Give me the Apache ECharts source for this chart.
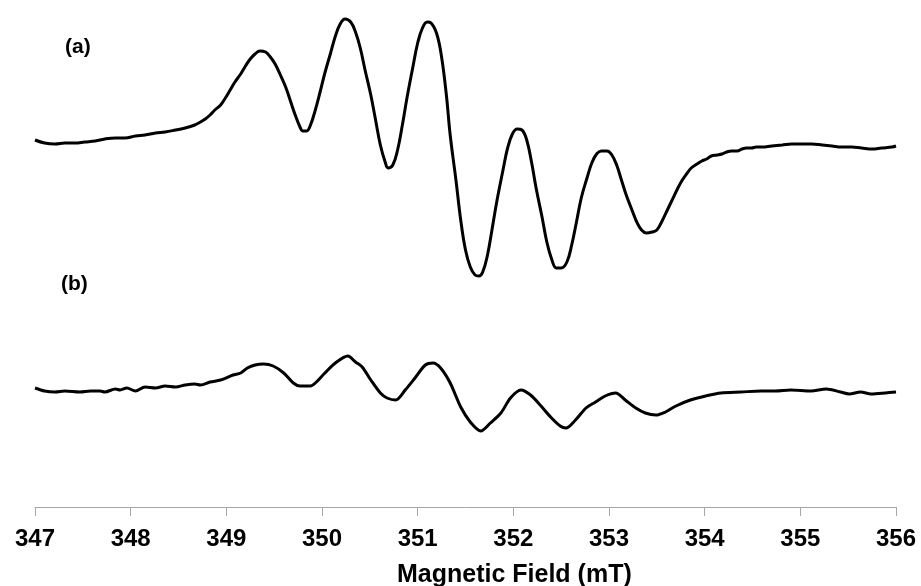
<!DOCTYPE html>
<html>
<head>
<meta charset="utf-8">
<script src="https://cdn.jsdelivr.net/npm/echarts@6/dist/echarts.min.js"></script>
<style>
html,body{margin:0;padding:0;background:#fff;}
#chart{width:921px;height:586px;}
</style>
</head>
<body>
<div id="chart"></div>
<script>
// Magnetic field (mT) and signal intensity (arbitrary units)
const fieldA = [347.00,347.10,347.21,347.31,347.42,347.52,347.63,347.73,347.84,347.94,348.05,348.15,348.26,348.36,348.47,348.57,348.67,348.73,348.78,348.83,348.88,348.94,348.99,349.04,349.09,349.15,349.20,349.25,349.30,349.35,349.41,349.46,349.51,349.56,349.62,349.67,349.72,349.77,349.80,349.84,349.88,349.93,349.98,350.03,350.09,350.14,350.19,350.24,350.30,350.35,350.40,350.45,350.51,350.56,350.61,350.66,350.69,350.74,350.79,350.84,350.89,350.95,351.00,351.05,351.10,351.14,351.20,351.25,351.30,351.34,351.40,351.45,351.50,351.55,351.60,351.64,351.68,351.73,351.78,351.83,351.89,351.94,351.99,352.04,352.09,352.14,352.19,352.24,352.30,352.35,352.40,352.45,352.50,352.56,352.61,352.66,352.71,352.77,352.82,352.87,352.92,352.98,353.03,353.08,353.13,353.18,353.24,353.29,353.34,353.39,353.45,353.50,353.55,353.60,353.66,353.71,353.76,353.81,353.86,353.92,353.97,354.02,354.07,354.13,354.18,354.23,354.28,354.34,354.39,354.44,354.49,354.54,354.60,354.70,354.81,354.91,355.02,355.12,355.23,355.33,355.43,355.54,355.64,355.75,355.85,355.96,356.00];
const intensityA = [367,364,363,364,364,365,366,368,369,369,371,372,374,375,377,379,382,385,388,392,397,402,409,417,425,433,441,448,453,456,455,450,443,433,420,406,392,380,376,376,382,397,415,434,454,471,483,488,485,475,459,437,412,387,362,345,339,342,357,382,410,440,464,479,485,484,473,450,412,372,327,287,257,240,232,231,235,252,279,307,336,359,373,378,377,367,345,318,290,265,248,239,239,245,262,285,309,329,344,353,356,356,352,342,327,312,297,285,277,274,275,277,285,295,307,317,326,333,339,343,346,348,351,352,353,355,356,356,358,359,359,360,360,361,362,363,363,363,362,361,360,360,359,358,359,360,361];

const fieldB = [347.00,347.10,347.21,347.31,347.47,347.58,347.68,347.73,347.84,347.89,347.96,348.05,348.15,348.26,348.36,348.47,348.57,348.67,348.73,348.83,348.94,349.07,349.15,349.22,349.30,349.39,349.49,349.60,349.70,349.77,349.88,349.93,350.03,350.14,350.27,350.35,350.42,350.51,350.61,350.68,350.77,350.87,350.98,351.08,351.16,351.24,351.34,351.45,351.55,351.66,351.76,351.87,351.97,352.08,352.18,352.28,352.39,352.49,352.55,352.65,352.76,352.86,352.96,353.07,353.17,353.28,353.38,353.49,353.59,353.70,353.85,354.01,354.17,354.38,354.59,354.74,354.90,355.11,355.27,355.42,355.51,355.63,355.74,355.89,356.00];
const intensityB = [119,116,115,116,115,116,116,115,118,117,119,116,120,119,121,120,122,123,122,125,127,132,134,139,142,143,141,134,124,121,121,124,134,144,151,145,140,127,114,109,107,117,130,142,144,139,124,100,85,76,84,94,109,117,112,102,90,81,79,87,99,105,111,114,107,99,94,92,95,101,107,111,114,115,116,116,117,116,118,115,113,115,113,114,115];

const tickValues = [347,348,349,350,351,352,353,354,355,356];
const axisTitle = 'Magnetic Field (mT)';
const labelA = '(a)';
const labelB = '(b)';

const chart = echarts.init(document.getElementById('chart'));
const FONT = '"Liberation Sans", Arial, sans-serif';
chart.setOption({
  animation: false,
  backgroundColor: '#ffffff',
  grid: { left: 35, right: 25, top: 0, bottom: 79, containLabel: false },
  xAxis: {
    type: 'value',
    min: tickValues[0],
    max: tickValues[tickValues.length - 1],
    interval: 1,
    axisLine: { show: true, lineStyle: { color: '#a6a6a6', width: 1 } },
    axisTick: { show: true, inside: false, length: 9, lineStyle: { color: '#a6a6a6', width: 1 } },
    splitLine: { show: false },
    axisLabel: { color: '#000', fontFamily: FONT, fontWeight: 'bold', fontSize: 24, margin: 20 }
  },
  yAxis: { type: 'value', min: 0, max: 507, show: false },
  graphic: [
    { type: 'text', left: 397, top: 563, style: { text: axisTitle, fill: '#000', font: 'bold 25px ' + FONT } },
    { type: 'text', left: 65, top: 37, style: { text: labelA, fill: '#000', font: 'bold 21px ' + FONT } },
    { type: 'text', left: 61, top: 274, style: { text: labelB, fill: '#000', font: 'bold 21px ' + FONT } }
  ],
  series: [
    { type: 'line', data: fieldA.map((f, i) => [f, intensityA[i]]), showSymbol: false, smooth: 0.4,
      lineStyle: { color: '#000', width: 3 } },
    { type: 'line', data: fieldB.map((f, i) => [f, intensityB[i]]), showSymbol: false, smooth: 0.3,
      lineStyle: { color: '#000', width: 3 } }
  ]
});
</script>
</body>
</html>
